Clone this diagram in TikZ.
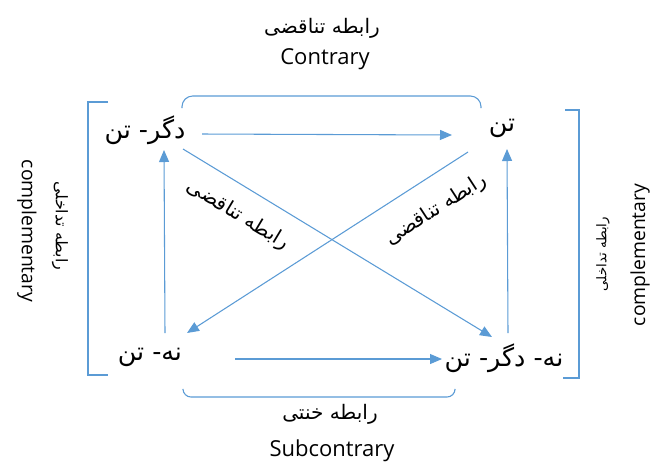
\documentclass[tikz,border=0pt]{standalone}
\usepackage{fontspec}
\setmainfont{Open Sans}
\newfontfamily\arabicfont[Script=Arabic]{DejaVu Sans}
\TeXXeTstate=1
\usetikzlibrary{arrows.meta}
\usetikzlibrary{positioning}
\usetikzlibrary{calc}
\definecolor{lineblue}{RGB}{91,155,213}

\begin{document}
\begin{tikzpicture}[x=0.75pt, y=-0.75pt,
    term/.style={font=\arabicfont\fontsize{19}{22}\selectfont, inner sep=0pt},
    rel/.style={font=\arabicfont\fontsize{15}{18}\selectfont, inner sep=0pt},
    eng/.style={font=\fontsize{16.5}{19}\selectfont, inner sep=0pt},
    arr/.style={-{Triangle[length=9pt, width=7.5pt]}, draw=lineblue, line width=0.8pt},
    brk/.style={draw=lineblue, line width=0.8pt}]
    \useasboundingbox (0,0) rectangle (652,462);

    % the four terms
    \node[term] (dt) at (145,130) {\beginR دگر- تن\endR};
    \node[term] (t) at (502,128) {\beginR تن\endR};
    \node[term] (nt) at (150,357) {\beginR نه- تن\endR};
    \node[term] (ndt) at (504,358) {\beginR نه- دگر- تن\endR};

    % arrows between them
    \draw[arr] ($(dt)+(57,4)$) -- ($(t)+(-50,7)$);
    \draw[arr] ($(nt)+(85,2)$) -- ($(ndt)+(-62,1)$);
    \draw[arr] ($(nt)+(15,-24)$) -- ($(dt)+(19,20)$);
    \draw[arr] ($(ndt)+(4,-25)$) -- ($(t)+(5,21)$);
    \draw[arr] ($(dt)+(38,19)$) -- ($(ndt)+(-12,-21)$);
    \draw[arr] ($(t)+(-34,24)$) -- ($(nt)+(37,-24)$);

    % brackets
    \draw[brk, rounded corners=8pt] (182,108) -- (182,96) -- (481,96) -- (481,108);
    \draw[brk, rounded corners=6pt] (183,390) -- (183,397) -- (455,397) -- (455,390);
    \draw[brk] (108,102) -- (88,102) -- (88,375) -- (108,375);
    \draw[brk] (565,110) -- (579,110) -- (579,378) -- (563,378);

    % relation labels
    \node[rel] (top) at (322,28) {\beginR رابطه تناقضی\endR};
    \node[eng] (contrary) at (325,59) {Contrary};
    \node[rel] (bot) at (330,414) {\beginR رابطه خنتی\endR};
    \node[eng] (subcontrary) at (332,451) {Subcontrary};
    \node[rel, font=\arabicfont\fontsize{12}{14}\selectfont, rotate=-90] (leftrel) at (60,226) {\beginR رابطه تداخلی\endR};
    \node[eng, font=\fontsize{14.5}{17}\selectfont, rotate=-90] (leftcomp) at (27,231) {complementary};
    \node[rel, font=\arabicfont\fontsize{10}{12}\selectfont, rotate=90] (rightrel) at (603,254) {\beginR رابطه تداخلی\endR};
    \node[eng, font=\fontsize{14.5}{17}\selectfont, rotate=90] (rightcomp) at (640,255) {complementary};
    \node[rel, rotate=-31] (diagone) at (238,215) {\beginR رابطه تناقضی\endR};
    \node[rel, rotate=33] (diagtwo) at (436,210) {\beginR رابطه تناقضی\endR};
\end{tikzpicture}
\end{document}
